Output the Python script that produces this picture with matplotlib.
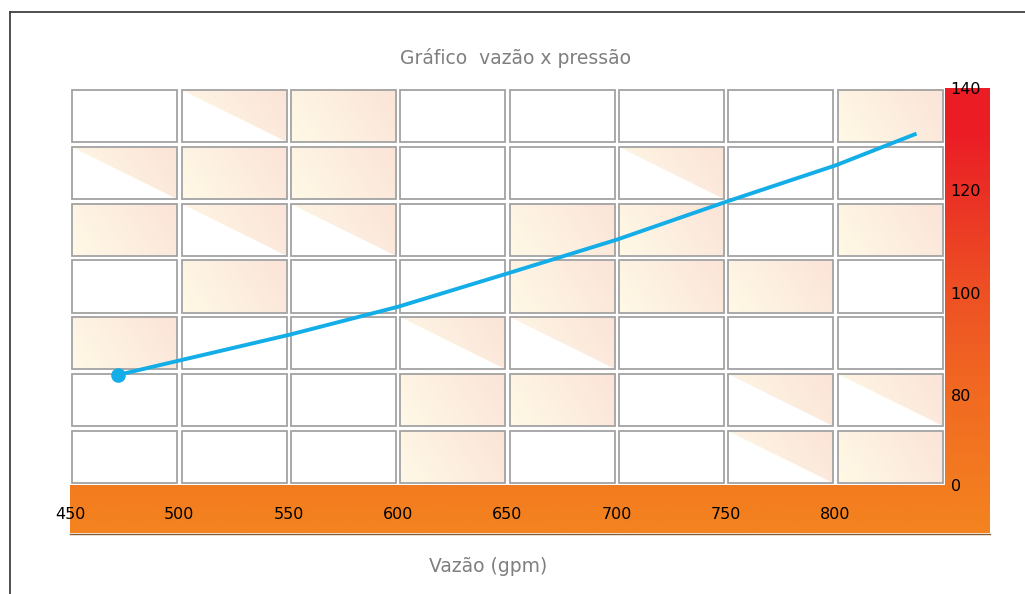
import numpy as np
import matplotlib
matplotlib.use("Agg")
import matplotlib.pyplot as plt
from matplotlib.patches import Rectangle, Polygon
from matplotlib.lines import Line2D
from matplotlib.colors import LinearSegmentedColormap, to_rgb

# data
vazao = [472, 500, 550, 600, 650, 700, 750, 800, 837]
pressao = [84.0, 86.8, 91.8, 97.3, 103.8, 110.4, 117.8, 124.9, 131.1]

x_ticks = [450, 500, 550, 600, 650, 700, 750, 800]
y_ticks = [62.5, 80, 100, 120, 140]
y_tick_labels = ["0", "80", "100", "120", "140"]

# background cell pattern: 0 white, 1 gradient, 2 half (upper-right triangle)
cells = [
    [0, 2, 1, 0, 0, 0, 0, 1],
    [2, 1, 1, 0, 0, 2, 0, 0],
    [1, 2, 2, 0, 1, 1, 0, 1],
    [0, 1, 0, 0, 1, 1, 1, 0],
    [1, 0, 0, 2, 2, 0, 0, 0],
    [0, 0, 0, 1, 1, 0, 2, 2],
    [0, 0, 0, 1, 0, 0, 2, 1],
]

W, H = 1025, 594
fig = plt.figure(figsize=(W / 100, H / 100), dpi=100)

# outer frame
fig.add_artist(Line2D([10 / W, 10 / W], [0, 1 - 12 / H], transform=fig.transFigure, color="#404040", lw=1.3))
fig.add_artist(Line2D([10 / W, 1], [1 - 12 / H, 1 - 12 / H], transform=fig.transFigure, color="#404040", lw=1.3))

# orange/red band behind the plot (bottom band + right bar)
bg = fig.add_axes([70 / W, 1 - 533 / H, 920 / W, 445 / H], zorder=0)
band_cmap = LinearSegmentedColormap.from_list("band", [
    (0.0, "#F3831F"), (0.108, "#F37B20"), (0.31, "#F16A22"),
    (0.544, "#EE5024"), (0.777, "#EA2F26"), (0.9, "#EC1D25"), (1.0, "#ED1C24")])
bg.imshow(np.linspace(0, 1, 200).reshape(-1, 1), cmap=band_cmap, origin="lower",
          aspect="auto", extent=[0, 1, 0, 1])
bg.axis("off")
fig.add_artist(Line2D([70 / W, 990 / W], [1 - 533.5 / H, 1 - 533.5 / H], transform=fig.transFigure,
                      color="#8a5a30", lw=1.0))

ax = fig.add_axes([70 / W, 1 - 485 / H, 875 / W, 397 / H], zorder=1)
ax.set_facecolor("white")

# gradient used inside the cells
c0 = np.array(to_rgb("#FFF9E6"))
c1 = np.array(to_rgb("#FBE4D8"))
u, v = np.meshgrid(np.linspace(0, 1, 60), np.linspace(0, 1, 60))
t = (0.75 * u + 0.25 * v)[..., None]
grad = c0 * (1 - t) + c1 * t

ncol, nrow = 8, 7
dx, dy = 2.2 / 875, 2.3 / 397
for r, row in enumerate(cells):
    for c, kind in enumerate(row):
        x0 = c / ncol + dx
        x1 = (c + 1) / ncol - dx
        y1 = 1 - r / nrow - dy
        y0 = 1 - (r + 1) / nrow + dy
        if kind:
            im = ax.imshow(grad, origin="lower", extent=[x0, x1, y0, y1],
                           transform=ax.transAxes, aspect="auto", zorder=1)
            if kind == 2:
                tri = Polygon([(x0, y1), (x1, y1), (x1, y0)], closed=True,
                              transform=ax.transAxes, facecolor="none", edgecolor="none")
                ax.add_patch(tri)
                im.set_clip_path(tri)
        ax.add_patch(Rectangle((x0, y0), x1 - x0, y1 - y0, transform=ax.transAxes,
                               facecolor="none", edgecolor="#A3A3A3", lw=1.3, zorder=2))

ax.plot(vazao, pressao, color="#13ADE8", lw=2.8, zorder=5,
        marker="o", markevery=[0], markersize=9.5, solid_capstyle="butt")

ax.set_xlim(450, 850)
ax.set_ylim(62.5, 140)
ax.set_xticks(x_ticks)
ax.set_xticklabels([str(v) for v in x_ticks])
ax.set_yticks(y_ticks)
ax.set_yticklabels(y_tick_labels)
ax.yaxis.tick_right()
ax.tick_params(axis="x", length=0, pad=16, labelsize=11.5, colors="black")
ax.tick_params(axis="y", length=0, pad=4, labelsize=11.5, colors="black")
for s in ax.spines.values():
    s.set_visible(False)

fig.text(515 / W, 1 - 58 / H, "Gráfico  vazão x pressão", ha="center", va="center",
         fontsize=13.5, color="#7F7F7F")
fig.text(488 / W, 1 - 566 / H, "Vazão (gpm)", ha="center", va="center",
         fontsize=13.5, color="#7F7F7F")

fig.savefig("out.png", dpi=100, facecolor="white")
